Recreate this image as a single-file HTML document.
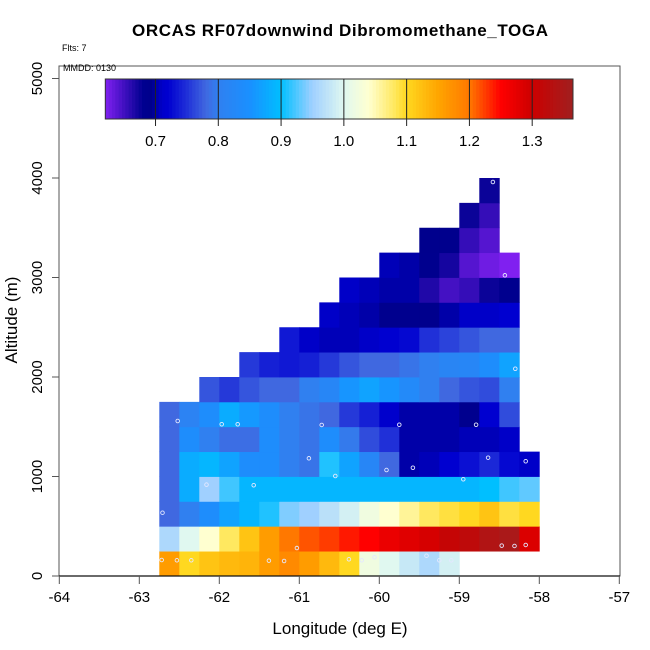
<!DOCTYPE html>
<html><head><meta charset="utf-8"><style>
html,body{margin:0;padding:0;background:#fff;}
svg{display:block;font-family:"Liberation Sans",Arial,sans-serif;}
</style></head><body>
<svg id="chart" width="650" height="650" viewBox="0 0 650 650">
<text x="340" y="36" text-anchor="middle" font-size="17" font-weight="bold" textLength="416">ORCAS RF07downwind Dibromomethane_TOGA</text>
<text x="62" y="51" font-size="9">Flts: 7</text>
<rect x="59" y="66" width="561" height="510" fill="none" stroke="#555" stroke-width="1"/>
<text x="63" y="71" font-size="9">MMDD: 0130</text>
<g id="cells"></g>
<g id="pts"></g>
<g id="cbar"></g>
<g id="axes"></g>
<text x="340" y="634" text-anchor="middle" font-size="17">Longitude (deg E)</text>
<text transform="translate(17,320) rotate(-90)" text-anchor="middle" font-size="17">Altitude (m)</text>
</svg>
<script>
// ---- data ----
const lonStart = -62.75, lonStep = 0.25;
const altStep = 250;
const row0 = [1.16,1.10,1.12,1.13,1.135,1.16,1.18,1.16,1.13,1.10,1.02,1.0,0.98,0.96,0.99,null,null,null,null];
const row1 = [0.96,1.0,1.04,1.08,1.12,1.16,1.20,1.215,1.225,1.24,1.25,1.27,1.28,1.29,1.31,1.32,1.34,1.35,1.285];
const row2 = [0.78,0.80,0.84,0.87,0.89,0.91,0.94,0.95,0.97,0.99,1.02,1.04,1.06,1.08,1.09,1.10,1.12,1.09,1.10];
const row3 = [0.78,0.88,0.95,0.92,0.89,0.89,0.89,0.89,0.89,0.89,0.89,0.89,0.89,0.89,0.89,0.89,0.90,0.92,0.93];
const row4 = [0.78,0.88,0.89,0.87,0.84,0.84,0.80,0.79,0.91,0.87,0.82,0.78,0.70,0.705,0.72,0.73,0.745,0.725,0.71];
const row5 = [0.78,0.84,0.80,0.785,0.785,0.84,0.80,0.79,0.84,0.795,0.765,0.75,0.70,0.70,0.70,0.705,0.705,0.71,null];
const row6 = [0.78,0.81,0.84,0.88,0.86,0.84,0.80,0.79,0.78,0.755,0.74,0.715,0.70,0.70,0.70,0.685,0.72,0.765,null];
const row7 = [null,null,0.77,0.755,0.77,0.78,0.78,0.80,0.82,0.855,0.87,0.855,0.83,0.80,0.78,0.77,0.765,0.80,null];
const row8 = [null,null,null,null,0.755,0.74,0.735,0.74,0.755,0.77,0.78,0.78,0.79,0.80,0.815,0.82,0.84,0.87,null];
const row9 = [null,null,null,null,null,null,0.735,0.71,0.705,0.705,0.71,0.72,0.725,0.75,0.76,0.77,0.78,0.78,null];
const row10 = [null,null,null,null,null,null,null,null,0.71,0.705,0.70,0.685,0.685,0.69,0.70,0.71,0.71,0.72,null];
const row11 = [null,null,null,null,null,null,null,null,null,0.71,0.705,0.70,0.70,0.665,0.648,0.655,0.675,0.685,null];
const row12 = [null,null,null,null,null,null,null,null,null,null,null,0.705,0.70,0.685,0.67,0.64,0.628,0.62,null];
const row13 = [null,null,null,null,null,null,null,null,null,null,null,null,null,0.69,0.69,0.655,0.64,null,null];
const row14 = [null,null,null,null,null,null,null,null,null,null,null,null,null,null,null,0.675,0.655,null,null];
const row15 = [null,null,null,null,null,null,null,null,null,null,null,null,null,null,null,null,0.675,null,null];
const grid = [row0,row1,row2,row3,row4,row5,row6,row7,row8,row9,row10,row11,row12,row13,row14,row15];
const ptLon = [-62.52,-61.97,-61.77,-60.72,-59.75,-58.79,-60.88,-58.64,-58.17,-59.91,-59.58,-60.55,-58.95,-62.16,-61.57,-62.71,-61.03,-58.47,-58.31,-58.17,-62.72,-62.53,-62.35,-61.38,-61.19,-60.38,-60.22,-60.06,-59.41,-59.25,-59.10,-58.58,-58.43,-58.30];
const ptAlt = [1558,1525,1525,1518,1520,1520,1183,1189,1153,1065,1088,1005,972,918,912,636,281,305,302,312,161,158,158,154,151,168,158,188,204,158,158,3960,3022,2083];
const xTicks = [-64,-63,-62,-61,-60,-59,-58,-57];
const yTicks = [0,1000,2000,3000,4000,5000];
const cbTicks = [0.7,0.8,0.9,1.0,1.1,1.2,1.3];
const cbMin = 0.62, cbMax = 1.365;
const stopVals = [0.62,0.65,0.68,0.695,0.70,0.71,0.72,0.75,0.78,0.80,0.85,0.90,0.95,1.00,1.04,1.08,1.10,1.15,1.20,1.25,1.30,1.365];
const stopCols = ["#8020f0","#4010c0","#000090","#00008b","#0000a8","#0000c8","#0000d0","#2030d8","#4068e0","#3080f0","#1a90ff","#00bfff","#a0d0ff","#e0f8f0","#ffffd0","#ffe860","#ffd820","#ffa500","#ff7800","#ff0000","#cc0000","#a02020"];

// ---- scales ----
const X = lon => 59.3 + (lon + 64) * 80;
const Y = alt => 576 - alt * 0.0995;
const CB = v => 105.3 + (v - cbMin) / (cbMax - cbMin) * (573 - 105.3);
function hex(c){return [1,3,5].map(i=>parseInt(c.substr(i,2),16));}
function color(v){
  if (v <= stopVals[0]) return stopCols[0];
  for (let i=1;i<stopVals.length;i++){
    if (v <= stopVals[i]){
      const t=(v-stopVals[i-1])/(stopVals[i]-stopVals[i-1]);
      const a=hex(stopCols[i-1]), b=hex(stopCols[i]);
      return "rgb("+a.map((x,k)=>Math.round(x+(b[k]-x)*t)).join(",")+")";
    }
  }
  return stopCols[stopCols.length-1];
}
const NS="http://www.w3.org/2000/svg";
function mk(tag, attrs, parent){const e=document.createElementNS(NS,tag);for(const k in attrs)e.setAttribute(k,attrs[k]);parent.appendChild(e);return e;}

// ---- heatmap ----
const cells=document.getElementById("cells");
grid.forEach((row,r)=>{
  row.forEach((v,c)=>{
    if(v===null) return;
    const x0=X(lonStart+c*lonStep), x1=X(lonStart+(c+1)*lonStep);
    const y0=Y((r+1)*altStep), y1=Y(r*altStep);
    const el=mk("rect",{x:x0,y:y0,width:x1-x0+0.4,height:y1-y0+0.4,fill:color(v)},cells);
    
    
  });
});
// ---- points ----
const pts=document.getElementById("pts");
ptLon.forEach((lo,i)=>{
  const el=mk("circle",{cx:X(lo),cy:Y(ptAlt[i]),r:1.8,fill:"none",stroke:"#e4e8ff","stroke-width":0.9},pts);
  
  
});
// ---- colorbar ----
const cb=document.getElementById("cbar");
const nb=140;
for(let i=0;i<nb;i++){
  const v0=cbMin+(cbMax-cbMin)*i/nb, v1=cbMin+(cbMax-cbMin)*(i+1)/nb;
  const el=mk("rect",{x:CB(v0),y:79,width:CB(v1)-CB(v0)+0.5,height:40,fill:color((v0+v1)/2)},cb);
  
  
}
mk("rect",{x:CB(cbMin),y:79,width:CB(cbMax)-CB(cbMin),height:40,fill:"none",stroke:"#333","stroke-width":1},cb);
cbTicks.forEach(t=>{
  const x=CB(t);
  const l=mk("line",{x1:x,y1:79,x2:x,y2:126,stroke:"#222","stroke-width":1},cb);
  
  
  const tx=mk("text",{x:x,y:146,"text-anchor":"middle","font-size":15},cb);
  tx.textContent=t.toFixed(1);
  
  
});
// ---- axes ----
const ax=document.getElementById("axes");
mk("line",{x1:59,y1:576,x2:620,y2:576,stroke:"#111","stroke-width":1.2},ax);
xTicks.forEach(t=>{
  const x=X(t);
  mk("line",{x1:x,y1:576,x2:x,y2:584,stroke:"#555","stroke-width":1},ax);
  const tx=mk("text",{x:x,y:602,"text-anchor":"middle","font-size":15},ax);
  tx.textContent=String(t);
  
  
});
yTicks.forEach(t=>{
  const y=Y(t);
  mk("line",{x1:52,y1:y,x2:59,y2:y,stroke:"#555","stroke-width":1},ax);
  const tx=mk("text",{transform:"translate(42,"+y+") rotate(-90)","text-anchor":"middle","font-size":15},ax);
  tx.textContent=String(t);
  
  
});
</script>
</body></html>
